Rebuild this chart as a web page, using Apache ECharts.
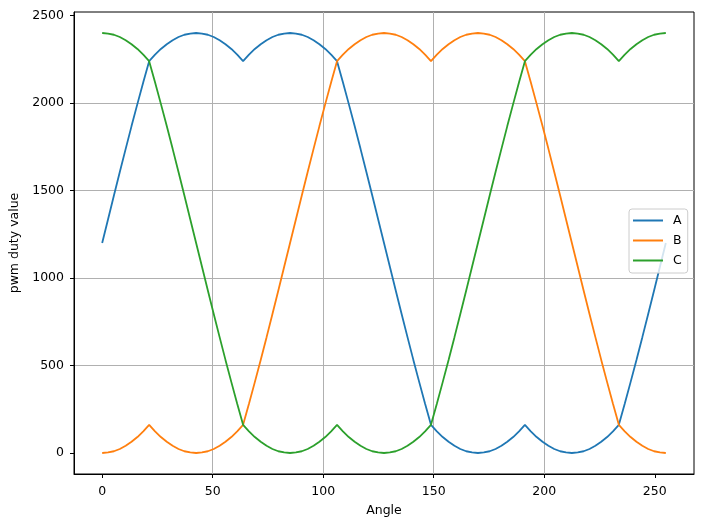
<!DOCTYPE html>
<html>

<head>
    <meta charset="UTF-8">
    <title>pwm duty value</title>
    <script type="text/javascript" src="https://cdn.jsdelivr.net/npm/echarts@6/dist/echarts.min.js"></script>
</head>

<body style="margin: 0;padding: 0;">
    <div id="container" style="width:704px; height:527px;"></div>
    <script>
        // x values of the samples (angle)
        var angle = [0, 2.66, 5.31, 7.97, 10.63, 13.28, 15.94, 18.59, 21.25, 23.91, 26.56, 29.22, 31.88, 34.53, 37.19, 39.84,
            42.5, 45.16, 47.81, 50.47, 53.13, 55.78, 58.44, 61.09, 63.75, 66.41, 69.06, 71.72, 74.38, 77.03, 79.69, 82.34,
            85, 87.66, 90.31, 92.97, 95.63, 98.28, 100.94, 103.59, 106.25, 108.91, 111.56, 114.22, 116.88, 119.53, 122.19, 124.84,
            127.5, 130.16, 132.81, 135.47, 138.13, 140.78, 143.44, 146.09, 148.75, 151.41, 154.06, 156.72, 159.38, 162.03, 164.69, 167.34,
            170, 172.66, 175.31, 177.97, 180.63, 183.28, 185.94, 188.59, 191.25, 193.91, 196.56, 199.22, 201.88, 204.53, 207.19, 209.84,
            212.5, 215.16, 217.81, 220.47, 223.13, 225.78, 228.44, 231.09, 233.75, 236.41, 239.06, 241.72, 244.38, 247.03, 249.69, 252.34,
            255];

        var seriesA = [1200, 1336, 1471, 1606, 1738, 1868, 1995, 2119, 2239, 2276, 2309, 2336, 2359, 2377, 2390, 2397,
            2400, 2397, 2390, 2377, 2359, 2336, 2309, 2276, 2239, 2276, 2309, 2336, 2359, 2377, 2390, 2397,
            2400, 2397, 2390, 2377, 2359, 2336, 2309, 2276, 2239, 2119, 1995, 1868, 1738, 1606, 1471, 1336,
            1200, 1064, 929, 794, 662, 532, 405, 281, 161, 124, 91, 64, 41, 23, 10, 3,
            0, 3, 10, 23, 41, 64, 91, 124, 161, 124, 91, 64, 41, 23, 10, 3,
            0, 3, 10, 23, 41, 64, 91, 124, 161, 281, 405, 532, 662, 794, 929, 1064,
            1200];

        var seriesB = [0, 3, 10, 23, 41, 64, 91, 124, 161, 124, 91, 64, 41, 23, 10, 3,
            0, 3, 10, 23, 41, 64, 91, 124, 161, 281, 405, 532, 662, 794, 929, 1064,
            1200, 1336, 1471, 1606, 1738, 1868, 1995, 2119, 2239, 2276, 2309, 2336, 2359, 2377, 2390, 2397,
            2400, 2397, 2390, 2377, 2359, 2336, 2309, 2276, 2239, 2276, 2309, 2336, 2359, 2377, 2390, 2397,
            2400, 2397, 2390, 2377, 2359, 2336, 2309, 2276, 2239, 2119, 1995, 1868, 1738, 1606, 1471, 1336,
            1200, 1064, 929, 794, 662, 532, 405, 281, 161, 124, 91, 64, 41, 23, 10, 3,
            0];

        var seriesC = [2400, 2397, 2390, 2377, 2359, 2336, 2309, 2276, 2239, 2119, 1995, 1868, 1738, 1606, 1471, 1336,
            1200, 1064, 929, 794, 662, 532, 405, 281, 161, 124, 91, 64, 41, 23, 10, 3,
            0, 3, 10, 23, 41, 64, 91, 124, 161, 124, 91, 64, 41, 23, 10, 3,
            0, 3, 10, 23, 41, 64, 91, 124, 161, 281, 405, 532, 662, 794, 929, 1064,
            1200, 1336, 1471, 1606, 1738, 1868, 1995, 2119, 2239, 2276, 2309, 2336, 2359, 2377, 2390, 2397,
            2400, 2397, 2390, 2377, 2359, 2336, 2309, 2276, 2239, 2276, 2309, 2336, 2359, 2377, 2390, 2397,
            2400];

        var xTicks = [0, 50, 100, 150, 200, 250];
        var yTicks = [0, 500, 1000, 1500, 2000, 2500];

        var names = ['A', 'B', 'C'];
        var colors = ['#1f77b4', '#ff7f0e', '#2ca02c'];
        var font = 'DejaVu Sans';
        var fs = 12.5;

        function pairs(ys) {
            return angle.map(function (x, i) { return [x, ys[i]]; });
        }

        var chart = echarts.init(document.getElementById('container'), null, { renderer: 'canvas' });

        var axisCommon = {
            type: 'value',
            nameLocation: 'middle',
            nameTextStyle: { fontFamily: font, fontSize: fs, color: '#000' },
            axisLine: { show: true, onZero: false, lineStyle: { color: '#000', width: 1 } },
            axisTick: { show: true, length: 4, lineStyle: { color: '#000', width: 1 } },
            axisLabel: { fontFamily: font, fontSize: fs, color: '#000', formatter: function (v) { return String(v); } },
            splitLine: { show: true, showMinLine: false, showMaxLine: false, lineStyle: { color: '#b0b0b0', width: 1 } }
        };

        var option = {
            animation: false,
            color: colors,
            grid: { left: 74, right: 10, top: 12, bottom: 53, containLabel: false,
                show: true, borderColor: '#000', borderWidth: 1, backgroundColor: 'transparent' },
            xAxis: Object.assign({}, axisCommon, {
                name: 'Angle',
                nameGap: 30,
                min: -12.75,
                max: 267.75,
                axisTick: Object.assign({}, axisCommon.axisTick, { customValues: xTicks }),
                axisLabel: Object.assign({}, axisCommon.axisLabel, { customValues: xTicks, margin: 11 })
            }),
            yAxis: Object.assign({}, axisCommon, {
                name: 'pwm duty value',
                nameGap: 49,
                min: -120,
                max: 2520,
                axisTick: Object.assign({}, axisCommon.axisTick, { customValues: yTicks }),
                axisLabel: Object.assign({}, axisCommon.axisLabel, { customValues: yTicks, margin: 10 })
            }),
            legend: {
                data: names,
                orient: 'vertical',
                left: 629,
                top: 209,
                padding: [5, 6, 6, 3],
                itemWidth: 30,
                itemHeight: 14,
                itemGap: 7,
                itemStyle: { opacity: 0 },
                backgroundColor: 'rgba(255,255,255,0.8)',
                borderColor: '#cccccc',
                borderWidth: 1,
                borderRadius: 3,
                textStyle: { fontFamily: font, fontSize: fs, color: '#000', padding: [0, 0, 0, 5] }
            },
            series: [
                { name: names[0], type: 'line', data: pairs(seriesA) },
                { name: names[1], type: 'line', data: pairs(seriesB) },
                { name: names[2], type: 'line', data: pairs(seriesC) }
            ].map(function (s, i) {
                s.showSymbol = false;
                s.symbol = 'none';
                s.lineStyle = { width: 1.8, color: colors[i] };
                return s;
            })
        };
        chart.setOption(option);
    </script>
</body>

</html>
